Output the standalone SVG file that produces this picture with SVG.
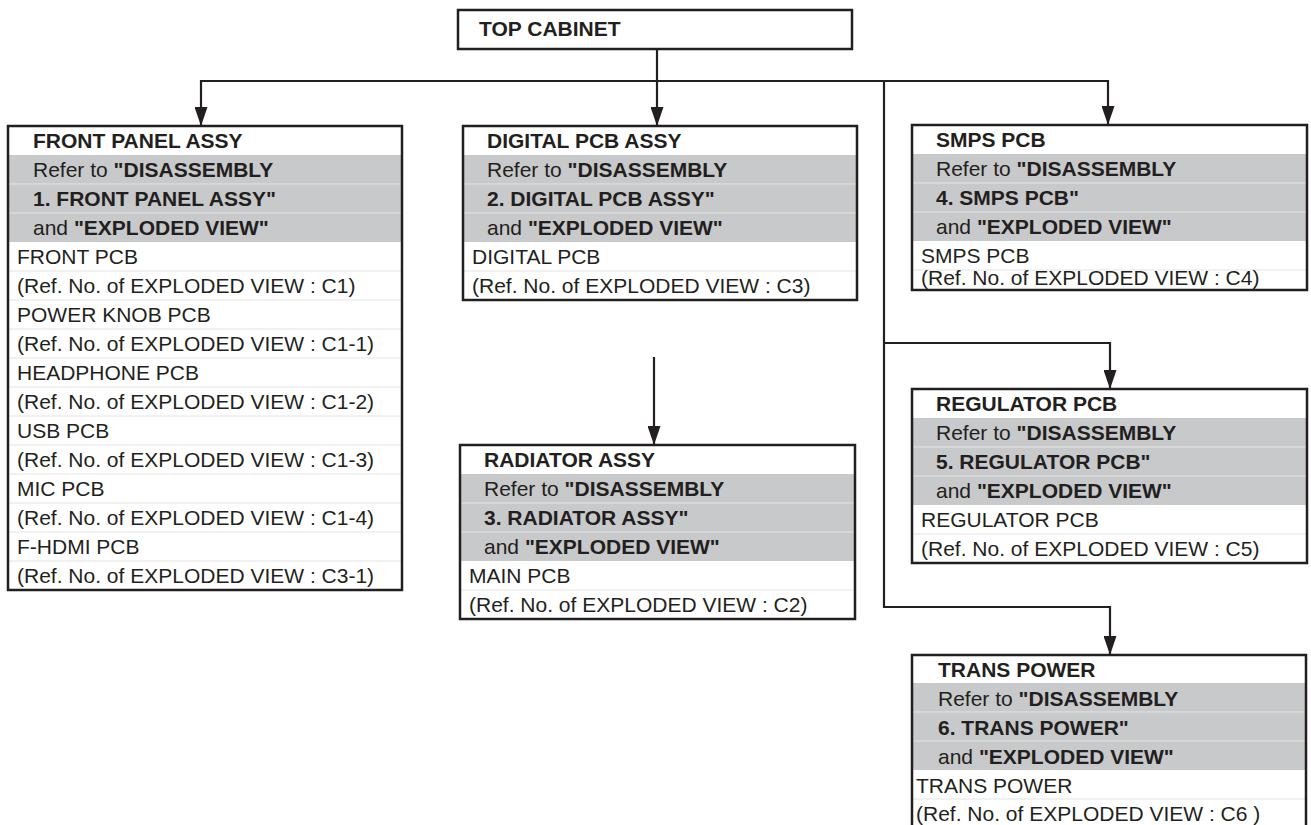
<svg xmlns="http://www.w3.org/2000/svg" width="1311" height="825" viewBox="0 0 1311 825">
<style>
text{font-family:"Liberation Sans",Arial,Helvetica,sans-serif;font-size:21px;fill:#231f20}
.b{font-weight:bold}
.box{fill:none;stroke:#231f20;stroke-width:2.5}
.bg{fill:#ffffff}
.gray{fill:#c8c9ca}
.sep{stroke:#e4e4e4;stroke-width:1}
.con{fill:none;stroke:#231f20;stroke-width:2.2;marker-end:url(#arr)}
</style>
<defs>
<marker id="arr" viewBox="0 0 19 13" refX="19" refY="6.5" markerWidth="19" markerHeight="13" markerUnits="userSpaceOnUse" orient="auto">
<path d="M0,0 L19,6.5 L0,13 z" fill="#231f20"/>
</marker>
</defs>
<rect width="1311" height="825" fill="#ffffff"/>

<g id="connectors">
<path class="con" d="M657,49 V126"/>
<path class="con" d="M657,81 H201 V126"/>
<path class="con" d="M657,81 H1108 V125"/>
<path class="con" d="M884,81 V607 H1110 V655"/>
<path class="con" d="M884,343 H1110 V389"/>
<path class="con" d="M654,357 V445"/>
</g>

<g id="top-cabinet">
<rect class="bg" x="458" y="10" width="394" height="39"/>
<rect class="box" x="458" y="10" width="394" height="39"/>
<text x="479" y="36" class="b">TOP CABINET</text>
</g>

<g id="front-panel-assy">
<rect class="bg" x="8" y="126" width="394" height="464"/>
<rect class="gray" x="8" y="155" width="394" height="87"/>
<g class="sep">
<line x1="8" y1="184" x2="402" y2="184"/><line x1="8" y1="213" x2="402" y2="213"/>
<line x1="8" y1="271" x2="402" y2="271"/><line x1="8" y1="300" x2="402" y2="300"/>
<line x1="8" y1="329" x2="402" y2="329"/><line x1="8" y1="358" x2="402" y2="358"/>
<line x1="8" y1="387" x2="402" y2="387"/><line x1="8" y1="416" x2="402" y2="416"/>
<line x1="8" y1="445" x2="402" y2="445"/><line x1="8" y1="474" x2="402" y2="474"/>
<line x1="8" y1="503" x2="402" y2="503"/><line x1="8" y1="532" x2="402" y2="532"/>
<line x1="8" y1="561" x2="402" y2="561"/>
</g>
<rect class="box" x="8" y="126" width="394" height="464"/>
<text x="33" y="147.5" class="b">FRONT PANEL ASSY</text>
<text x="33" y="176.5">Refer to <tspan class="b">"DISASSEMBLY</tspan></text>
<text x="33" y="205.5" class="b">1. FRONT PANEL ASSY"</text>
<text x="33" y="234.5">and <tspan class="b">"EXPLODED VIEW"</tspan></text>
<text x="17" y="263.5">FRONT PCB</text>
<text x="17" y="292.5">(Ref. No. of EXPLODED VIEW : C1)</text>
<text x="17" y="321.5">POWER KNOB PCB</text>
<text x="17" y="350.5">(Ref. No. of EXPLODED VIEW : C1-1)</text>
<text x="17" y="379.5">HEADPHONE PCB</text>
<text x="17" y="408.5">(Ref. No. of EXPLODED VIEW : C1-2)</text>
<text x="17" y="437.5">USB PCB</text>
<text x="17" y="466.5">(Ref. No. of EXPLODED VIEW : C1-3)</text>
<text x="17" y="495.5">MIC PCB</text>
<text x="17" y="524.5">(Ref. No. of EXPLODED VIEW : C1-4)</text>
<text x="17" y="553.5">F-HDMI PCB</text>
<text x="17" y="582.5">(Ref. No. of EXPLODED VIEW : C3-1)</text>
</g>

<g id="digital-pcb-assy">
<rect class="bg" x="463" y="126" width="394" height="174"/>
<rect class="gray" x="463" y="155" width="394" height="87"/>
<g class="sep">
<line x1="463" y1="184" x2="857" y2="184"/><line x1="463" y1="213" x2="857" y2="213"/>
<line x1="463" y1="271" x2="857" y2="271"/>
</g>
<rect class="box" x="463" y="126" width="394" height="174"/>
<text x="487" y="147.5" class="b">DIGITAL PCB ASSY</text>
<text x="487" y="176.5">Refer to <tspan class="b">"DISASSEMBLY</tspan></text>
<text x="487" y="205.5" class="b">2. DIGITAL PCB ASSY"</text>
<text x="487" y="234.5">and <tspan class="b">"EXPLODED VIEW"</tspan></text>
<text x="472" y="263.5">DIGITAL PCB</text>
<text x="472" y="292.5">(Ref. No. of EXPLODED VIEW : C3)</text>
</g>

<g id="radiator-assy">
<rect class="bg" x="460" y="445" width="395" height="174"/>
<rect class="gray" x="460" y="474" width="395" height="87"/>
<g class="sep">
<line x1="460" y1="503" x2="855" y2="503"/><line x1="460" y1="532" x2="855" y2="532"/>
<line x1="460" y1="590" x2="855" y2="590"/>
</g>
<rect class="box" x="460" y="445" width="395" height="174"/>
<text x="484" y="466.5" class="b">RADIATOR ASSY</text>
<text x="484" y="495.5">Refer to <tspan class="b">"DISASSEMBLY</tspan></text>
<text x="484" y="524.5" class="b">3. RADIATOR ASSY"</text>
<text x="484" y="553.5">and <tspan class="b">"EXPLODED VIEW"</tspan></text>
<text x="469" y="582.5">MAIN PCB</text>
<text x="469" y="611.5">(Ref. No. of EXPLODED VIEW : C2)</text>
</g>

<g id="smps-pcb">
<rect class="bg" x="912" y="125" width="395" height="165"/>
<rect class="gray" x="912" y="154" width="395" height="87"/>
<g class="sep">
<line x1="912" y1="183" x2="1307" y2="183"/><line x1="912" y1="212" x2="1307" y2="212"/>
<line x1="912" y1="270" x2="1307" y2="270"/>
</g>
<rect class="box" x="912" y="125" width="395" height="165"/>
<text x="936" y="146.5" class="b">SMPS PCB</text>
<text x="936" y="175.5">Refer to <tspan class="b">"DISASSEMBLY</tspan></text>
<text x="936" y="204.5" class="b">4. SMPS PCB"</text>
<text x="936" y="233.5">and <tspan class="b">"EXPLODED VIEW"</tspan></text>
<text x="921" y="262.5">SMPS PCB</text>
<text x="921" y="285">(Ref. No. of EXPLODED VIEW : C4)</text>
</g>

<g id="regulator-pcb">
<rect class="bg" x="912" y="389" width="395" height="174"/>
<rect class="gray" x="912" y="418" width="395" height="87"/>
<g class="sep">
<line x1="912" y1="447" x2="1307" y2="447"/><line x1="912" y1="476" x2="1307" y2="476"/>
<line x1="912" y1="534" x2="1307" y2="534"/>
</g>
<rect class="box" x="912" y="389" width="395" height="174"/>
<text x="936" y="410.5" class="b">REGULATOR PCB</text>
<text x="936" y="439.5">Refer to <tspan class="b">"DISASSEMBLY</tspan></text>
<text x="936" y="468.5" class="b">5. REGULATOR PCB"</text>
<text x="936" y="497.5">and <tspan class="b">"EXPLODED VIEW"</tspan></text>
<text x="921" y="526.5">REGULATOR PCB</text>
<text x="921" y="555.5">(Ref. No. of EXPLODED VIEW : C5)</text>
</g>

<g id="trans-power">
<rect class="bg" x="912" y="655" width="394" height="180"/>
<rect class="gray" x="912" y="683" width="394" height="87"/>
<g class="sep">
<line x1="912" y1="712" x2="1306" y2="712"/><line x1="912" y1="741" x2="1306" y2="741"/>
<line x1="912" y1="799" x2="1306" y2="799"/>
</g>
<rect class="box" x="912" y="655" width="394" height="180"/>
<text x="938" y="676.5" class="b">TRANS POWER</text>
<text x="938" y="705.5">Refer to <tspan class="b">"DISASSEMBLY</tspan></text>
<text x="938" y="734.5" class="b">6. TRANS POWER"</text>
<text x="938" y="763.5">and <tspan class="b">"EXPLODED VIEW"</tspan></text>
<text x="916" y="792.5">TRANS POWER</text>
<text x="916" y="821">(Ref. No. of EXPLODED VIEW : C6 )</text>
</g>
</svg>
